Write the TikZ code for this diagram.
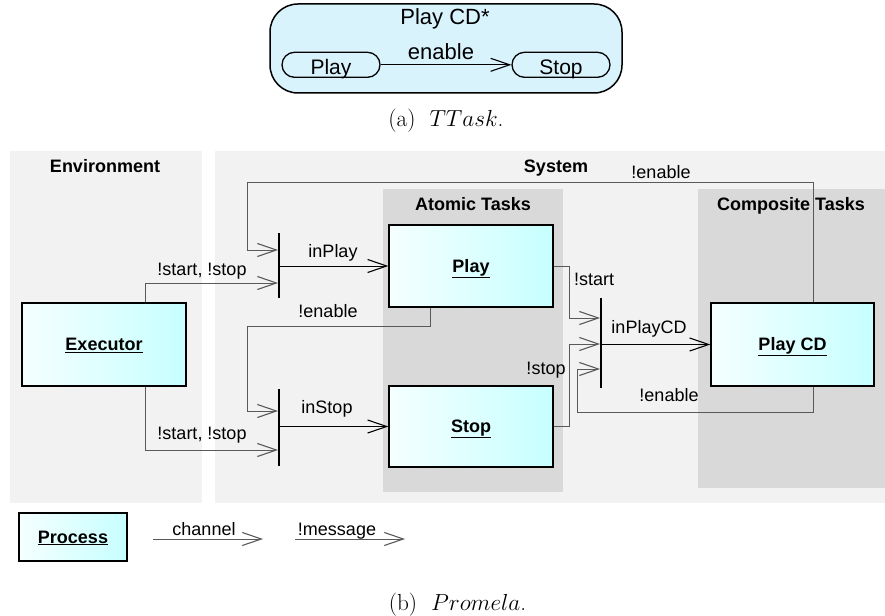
\documentclass[tikz,border=0pt]{standalone}
\usepackage{fontspec}
\newfontfamily\arial{Liberation Sans}
\usetikzlibrary{arrows.meta}
\begin{document}
\begin{tikzpicture}[x=1pt,y=-1pt,
  every node/.style={inner sep=0pt},
  lbl/.style={font=\arial\fontsize{18}{20}\selectfont, anchor=base},
  hdr/.style={font=\arial\bfseries\fontsize{18}{20}\selectfont, anchor=base},
  toplbl/.style={font=\arial\fontsize{22}{24}\selectfont, anchor=base},
  captext/.style={font=\fontsize{20.74}{24}\selectfont, anchor=base, scale=1.12},
  proc/.style={rectangle, draw=black, line width=1.3pt, left color=cyan!4!white, right color=cyan!22!white,
    font=\arial\bfseries\fontsize{18}{20}\selectfont, text height=12pt, text depth=0pt},
  pill/.style={rectangle, draw=black, line width=1.3pt, fill=cyan!15, rounded corners=12.5pt,
    minimum width=98pt, minimum height=25pt, font=\arial\fontsize{21}{24}\selectfont,
    text height=19pt, text depth=0pt},
  syncbar/.style={rectangle, fill=black, draw=none, minimum width=1.4pt},
  barbtip/.style={-{Straight Barb[length=19pt,width=13pt,line width=1.1pt]}},
  conn/.style={draw=black!65, line width=1pt, barbtip},
  dconn/.style={draw=black, line width=1pt, barbtip},
  panel/.style={fill=black!5},
  subpanel/.style={fill=black!15}
]
\useasboundingbox (0,0) rectangle (885,615);

% ---------- (a) TTask ----------
\node[draw, line width=1.5pt, fill=cyan!15, rounded corners=28pt,
      minimum width=352pt, minimum height=89pt] (cd) at (446,48.5) {};
\node[toplbl] (cdl) at (445,25) {Play CD*};
\node[pill] (tp) at (331,64.8) {Play};
\node[pill] (ts) at (561,64.8) {Stop};
\draw[dconn] (tp) -- (ts);
\node[toplbl] (en) at (441,60) {enable};
\node[captext] (capa) at (446,127) {(a)\hspace{0.6em}$TTask$.};

% ---------- (b) Promela ----------
\fill[panel] (10,151) rectangle (202,503);
\fill[panel] (215,151) rectangle (885,503);
\fill[subpanel] (383,189) rectangle (563,492);
\fill[subpanel] (698,189) rectangle (885,488);

\node[hdr] (henv) at (105,172) {Environment};
\node[hdr] (hsys) at (556,172) {System};
\node[hdr] (hat) at (473,210) {Atomic Tasks};
\node[hdr] (hct) at (791,210) {Composite Tasks};

\node[proc, minimum width=164pt, minimum height=83pt] (ex) at (104,344.5) {\underline{Executor}};
\node[proc, minimum width=164pt, minimum height=82pt] (pl) at (471,266) {\underline{Play}};
\node[proc, minimum width=164pt, minimum height=81pt] (st) at (471,426.5) {\underline{Stop}};
\node[proc, minimum width=163pt, minimum height=83pt] (pcd) at (792.5,344.5) {\underline{Play CD}};

\node[syncbar, minimum height=65pt] (b1) at (279,265.5) {};
\node[syncbar, minimum height=77pt] (b2) at (279,427.5) {};
\node[syncbar, minimum height=90pt] (b3) at (601,343) {};

% connectors
\draw[conn] ([xshift=41pt]ex.north) |- (b1.west |- 0,283);
\draw[conn] ([xshift=20.5pt]pcd.north) -- ++(0,-120) -| (247,250) -- (b1.west |- 0,250);
\draw[dconn] (b1.east |- pl.west) -- (pl.west);
\draw[conn] ([xshift=-41pt]pl.south) -- ++(0,19) -| (247,411) -- (b2.west |- 0,411);
\draw[conn] ([xshift=41pt]ex.south) |- (b2.west |- 0,450);
\draw[dconn] (b2.east |- st.west) -- (st.west);
\draw[conn] (pl.east) -- ++(16,0) |- (b3.west |- 0,318);
\draw[conn] (st.east) -- ++(16,0) |- (b3.west |- 0,344);
\draw[dconn] (b3.east |- pcd.west) -- (pcd.west);
\draw[conn] ([xshift=20.5pt]pcd.south) -- ++(0,26) -| (577,369) -- (b3.west |- 0,369);

% connector labels
\node[lbl] (l1) at (202,275) {!start, !stop};
\node[lbl] (l2) at (661,178) {!enable};
\node[lbl] (l3) at (333,257) {inPlay};
\node[lbl] (l4) at (328,317) {!enable};
\node[lbl] (l5) at (202,439) {!start, !stop};
\node[lbl] (l6) at (327,413) {inStop};
\node[lbl] (l7) at (594,285) {!start};
\node[lbl] (l8) at (546,374) {!stop};
\node[lbl] (l9) at (649,333) {inPlayCD};
\node[lbl] (l10) at (669,401) {!enable};

% legend
\node[proc, minimum width=108pt, minimum height=48pt] (pr) at (73,537) {\underline{Process}};
\coordinate (ch1) at (153,539);
\coordinate (ch2) at (263,539);
\coordinate (ms1) at (295,539);
\coordinate (ms2) at (405,539);
\draw[conn] (ch1) -- (ch2);
\draw[conn] (ms1) -- (ms2);
\node[lbl] (lch) at (204,535) {channel};
\node[lbl] (lms) at (337,535) {!message};

\node[captext] (capb) at (457.5,610) {(b)\hspace{0.6em}$Promela$.};
\end{tikzpicture}
\end{document}
